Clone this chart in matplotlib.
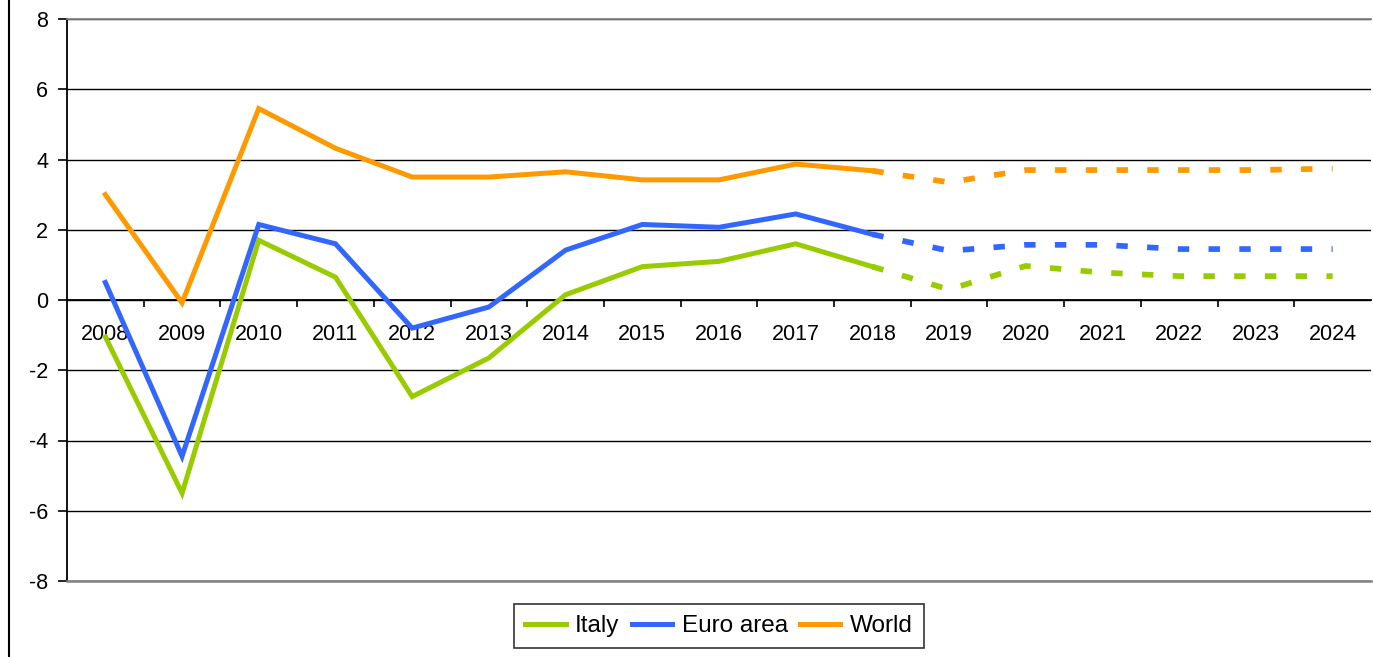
import numpy as np
import matplotlib.pyplot as plt
from matplotlib.lines import Line2D

plt.rcParams['font.family'] = ['Liberation Sans', 'DejaVu Sans']
plt.rcParams['axes.unicode_minus'] = False

years = [str(y) for y in range(2008, 2025)]
italy = [-1.05, -5.5, 1.7, 0.65, -2.75, -1.65, 0.15, 0.95, 1.1, 1.6, 0.95,
         0.3, 0.97, 0.78, 0.68, 0.68, 0.68]
euro = [0.5, -4.45, 2.15, 1.6, -0.8, -0.2, 1.42, 2.15, 2.07, 2.45, 1.87,
        1.4, 1.57, 1.57, 1.45, 1.45, 1.45]
world = [3.0, -0.08, 5.45, 4.32, 3.5, 3.5, 3.65, 3.42, 3.42, 3.87, 3.68,
         3.35, 3.7, 3.7, 3.7, 3.7, 3.74]
last_actual = 10  # 2018, projections dashed after this

colors = {'Italy': '#99CC00', 'Euro area': '#3366FF', 'World': '#FF9900'}

W, H = 1373, 657
fig = plt.figure(figsize=(W / 100, H / 100), dpi=100)
ax = fig.add_axes([67 / W, 1 - 581 / H, (1371 - 67) / W, (581 - 19) / H])

x = np.arange(len(years))
for name, vals in [('Italy', italy), ('Euro area', euro), ('World', world)]:
    vals = np.array(vals)
    ax.plot(x[:last_actual + 1], vals[:last_actual + 1], color=colors[name],
            lw=3.6, solid_joinstyle='miter', label=name, zorder=3)
    ax.plot(x[last_actual:], vals[last_actual:], color=colors[name],
            lw=4.1, dashes=(2.0, 3.4), dash_capstyle='butt', zorder=3)

ax.set_xlim(-0.5, len(years) - 0.5)
ax.set_ylim(-8, 8)
ax.set_yticks(range(-8, 9, 2))
ax.yaxis.grid(True, color='black', lw=1.0)
ax.set_axisbelow(True)

ax.spines['bottom'].set_position(('data', 0))
ax.spines['bottom'].set_color('black')
ax.spines['bottom'].set_linewidth(1.3)
ax.spines['left'].set_linewidth(1.3)
ax.spines['top'].set_color('#808080')
ax.spines['top'].set_linewidth(1.3)
ax.spines['right'].set_visible(False)
ax.axhline(-8, color='#808080', lw=1.8, zorder=2.6, clip_on=False)

ax.set_xticks(x)
ax.set_xticklabels(years)
ax.set_xticks(np.arange(0.5, len(years) - 1, 1.0), minor=True)
ax.tick_params(axis='x', which='major', length=0, pad=17, labelsize=15.5)
ax.tick_params(axis='x', which='minor', length=5, width=1.2, direction='out')
ax.tick_params(axis='y', length=6.5, width=1.2, direction='out', pad=7,
               labelsize=15.5)

handles = [Line2D([], [], color=colors[n], lw=3.6) for n in colors]
leg = fig.legend(handles, list(colors), loc='center',
                 bbox_to_anchor=(719 / W, 1 - 626 / H), ncol=3, fontsize=17.5,
                 frameon=True, fancybox=False, edgecolor='black',
                 handlelength=1.65, handletextpad=0.4, columnspacing=0.5,
                 borderpad=0.45, borderaxespad=0)
leg.get_frame().set_linewidth(1.2)

fig.add_artist(Line2D([9 / W, 9 / W], [0, 1], transform=fig.transFigure,
                      color='black', lw=1.5))

fig.savefig('out.png', dpi=100)
